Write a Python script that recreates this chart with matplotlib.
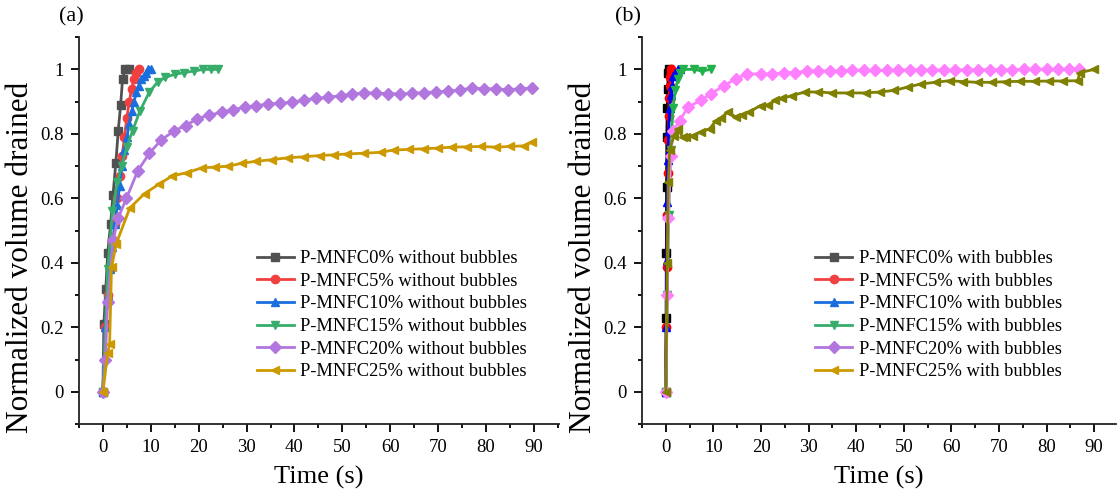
import numpy as np
import matplotlib
matplotlib.use("Agg")
import matplotlib.pyplot as plt
from matplotlib.lines import Line2D
from matplotlib.ticker import MultipleLocator, FuncFormatter

plt.rcParams['font.family'] = ['Liberation Serif', 'DejaVu Serif']

# %% data, panel (a): without bubbles
t_a0 = [0, 0.2, 0.6, 1.0, 1.6, 2.1, 2.7, 3.2, 3.7, 4.1, 4.6, 5.4]
y_a0 = [0, 0.21, 0.32, 0.43, 0.52, 0.61, 0.71, 0.81, 0.89, 0.97, 1.0, 1.0]

t_a5 = [0, 0.5, 1, 1.5, 2, 2.5, 3, 3.5, 4, 4.5, 5, 5.5, 6, 6.5, 7, 7.5]
y_a5 = [0, 0.2, 0.3, 0.38, 0.46, 0.52, 0.6, 0.67, 0.73, 0.79, 0.85, 0.9, 0.94, 0.97, 0.99, 1.0]

t_a10 = [0, 0.5, 1, 1.5, 2, 2.5, 3, 3.5, 4, 4.5, 5, 5.5, 6, 6.5, 7, 7.5, 8, 8.5, 9, 9.5, 10]
y_a10 = [0, 0.2, 0.3, 0.38, 0.45, 0.52, 0.58, 0.64, 0.7, 0.75, 0.79, 0.83, 0.87, 0.9, 0.93,
         0.95, 0.97, 0.98, 0.99, 1.0, 1.0]

t_a15 = [0, 1, 2, 3, 3.9, 5, 6.2, 7.7, 9.7, 11.4, 13, 15, 17, 19, 21, 22.5, 24]
y_a15 = [0, 0.38, 0.56, 0.65, 0.7, 0.76, 0.81, 0.87, 0.93, 0.96, 0.975, 0.985, 0.99, 0.995,
         1.0, 1.0, 1.0]

t_a20 = [0, 0.5, 1, 2.1, 3.2, 4.9, 7.3, 9.7, 12.1, 14.9, 17.3, 19.7, 22.1, 24.9, 27.2, 29.7,
         32, 34.5, 37, 39.4, 42, 44.5, 47, 49.7, 52, 54.6, 57, 59.5, 62, 64.5, 67, 69.5,
         72, 74.5, 77, 79.5, 82, 84.5, 87, 89.5]
y_a20 = [0, 0.1, 0.28, 0.47, 0.54, 0.6, 0.686, 0.74, 0.78, 0.81, 0.826, 0.847, 0.858, 0.867,
         0.875, 0.883, 0.888, 0.892, 0.895, 0.898, 0.905, 0.91, 0.913, 0.919, 0.923, 0.928,
         0.926, 0.925, 0.924, 0.926, 0.928, 0.93, 0.932, 0.936, 0.942, 0.94, 0.94, 0.937,
         0.94, 0.942]

t_a25 = [0, 1.0, 1.4, 1.8, 2.8, 5.6, 8.7, 11.8, 14.5, 17.6, 20.7, 23.5, 26.2, 29, 32, 35.3,
         38.6, 42, 45.3, 48.2, 51, 54.5, 58, 60.7, 64, 67, 70, 73, 76, 79, 82, 85, 88, 89.5]
y_a25 = [0, 0.12, 0.15, 0.386, 0.46, 0.57, 0.615, 0.645, 0.67, 0.68, 0.695, 0.697, 0.70, 0.709,
         0.715, 0.72, 0.726, 0.729, 0.733, 0.735, 0.738, 0.74, 0.743, 0.75, 0.752, 0.754,
         0.756, 0.759, 0.76, 0.761, 0.759, 0.761, 0.763, 0.774]

# %% data, panel (b): with bubbles
t_b0 = [0, 0.05, 0.1, 0.15, 0.2, 0.3, 0.4, 0.5, 0.6]
y_b0 = [0, 0.23, 0.43, 0.635, 0.79, 0.88, 0.94, 0.99, 1.0]

t_b5 = [0, 0.1, 0.2, 0.3, 0.4, 0.5, 0.6, 0.7, 0.8, 0.9, 1.0, 1.1]
y_b5 = [0, 0.2, 0.386, 0.55, 0.68, 0.78, 0.857, 0.91, 0.95, 0.976, 0.99, 1.0]

t_b10 = [0, 0.1, 0.2, 0.3, 0.4, 0.6, 0.8, 1.0, 1.3, 1.6, 2.0, 2.5, 3.0]
y_b10 = [0, 0.2, 0.41, 0.59, 0.72, 0.81, 0.88, 0.92, 0.95, 0.98, 0.99, 1.0, 1.0]

t_b15 = [0, 0.3, 0.6, 1.0, 1.5, 2.0, 2.5, 3.0, 3.5, 6, 7.5, 9.5]
y_b15 = [0, 0.3, 0.55, 0.75, 0.88, 0.935, 0.97, 0.99, 1.0, 1.0, 0.995, 1.0]

t_b20 = [0, 0.3, 0.5, 1.0, 1.5, 2.9, 4.6, 7.4, 9.5, 12.3, 14.7, 17.1, 19.9, 22.4, 24.8, 27.2,
         29.6, 32, 34.4, 36.8, 39.2, 41.6, 44, 46.4, 48.8, 51.2, 53.6, 56, 58.4, 60.8, 63.2,
         65.6, 68, 70.4, 72.8, 75.2, 77.6, 80, 82.4, 84.8, 86.9]
y_b20 = [0, 0.3, 0.54, 0.73, 0.81, 0.84, 0.883, 0.904, 0.925, 0.95, 0.971, 0.986, 0.986, 0.986,
         0.99, 0.99, 0.995, 0.995, 0.995, 0.995, 0.997, 0.997, 0.997, 0.997, 0.998, 0.998,
         0.998, 0.998, 0.998, 0.998, 0.999, 0.999, 0.999, 0.999, 0.999, 1.0, 1.0, 1.0,
         1.0, 1.0, 1.0]

t_b25 = [0, 0.3, 0.5, 0.8, 1.7, 2.6, 3.5, 4.3, 5.6, 7.4, 9.2, 10.5, 11.6, 13, 14.7, 16, 17.5,
         19.9, 21.5, 23, 24.5, 26.5, 29.3, 32, 35, 38.5, 42, 45, 48, 50.8, 53.6, 56.7, 59.6,
         62.5, 65.5, 68.5, 71.5, 74.5, 77.5, 80.5, 83.5, 86.5, 87, 90]
y_b25 = [0, 0.4, 0.65, 0.75, 0.795, 0.816, 0.79, 0.79, 0.795, 0.806, 0.816, 0.84, 0.85, 0.868,
         0.852, 0.86, 0.868, 0.888, 0.89, 0.904, 0.91, 0.919, 0.93, 0.93, 0.927, 0.927, 0.927,
         0.93, 0.935, 0.945, 0.955, 0.96, 0.965, 0.962, 0.96, 0.96, 0.962, 0.963, 0.963,
         0.964, 0.964, 0.965, 0.99, 1.0]

labels = ['P-MNFC0%', 'P-MNFC5%', 'P-MNFC10%', 'P-MNFC15%', 'P-MNFC20%', 'P-MNFC25%']
markers = ['s', 'o', '^', 'v', 'D', '<']
colors_a = ['#515151', '#F14040', '#1A6FDF', '#37AD6B', '#B177DE', '#CC9900']
colors_b = ['#000000', '#FF0000', '#0000FF', '#22B14C', '#FF80FF', '#808000']

series_a = [(t_a0, y_a0), (t_a5, y_a5), (t_a10, y_a10), (t_a15, y_a15), (t_a20, y_a20), (t_a25, y_a25)]
series_b = [(t_b0, y_b0), (t_b5, y_b5), (t_b10, y_b10), (t_b15, y_b15), (t_b20, y_b20), (t_b25, y_b25)]

fig = plt.figure(figsize=(11.17, 4.95), dpi=100)
ax_a = fig.add_axes([0.0707, 0.143, 0.430, 0.782])
ax_b = fig.add_axes([0.5748, 0.143, 0.424, 0.782])


def fmt_y(v, pos):
    if abs(v) < 1e-9:
        return '0'
    if abs(v - 1) < 1e-9:
        return '1'
    return f'{v:.1f}'


def style_axes(ax, xlim):
    ax.set_xlim(*xlim)
    ax.set_ylim(-0.1, 1.1)
    for s in ['top', 'right']:
        ax.spines[s].set_visible(False)
    for s in ['left', 'bottom']:
        ax.spines[s].set_linewidth(1.3)
        ax.spines[s].set_color('#222222')
    ax.xaxis.set_major_locator(MultipleLocator(10))
    ax.xaxis.set_minor_locator(MultipleLocator(5))
    ax.yaxis.set_major_locator(MultipleLocator(0.2))
    ax.yaxis.set_minor_locator(MultipleLocator(0.1))
    ax.yaxis.set_major_formatter(FuncFormatter(fmt_y))
    ax.set_xticks(np.arange(0, 91, 10))
    ax.set_yticks(np.arange(0, 1.01, 0.2))
    ax.tick_params(which='major', direction='out', length=6, width=1.3, labelsize=13.5, pad=5)
    ax.tick_params(which='minor', direction='out', length=3, width=1.3)
    ax.set_xlabel('Time (s)', fontsize=19, labelpad=7)
    ax.set_ylabel('Normalized volume drained', fontsize=22.5)
    ax.yaxis.set_label_coords(-0.092, 0.43)


for (t, y), c, m in zip(series_a, colors_a, markers):
    ax_a.plot(t, y, color=c, marker=m, markersize=6, lw=2)
for (t, y), c, m in zip(series_b, colors_b, markers):
    ax_b.plot(t, y, color=c, marker=m, markersize=6, lw=2)

style_axes(ax_a, (-5, 95.3))
style_axes(ax_b, (-5, 94.5))

handles = [Line2D([], [], color=c, marker=m, markersize=6, lw=2) for c, m in zip(colors_a, markers)]
ax_a.legend(handles, [l + ' without bubbles' for l in labels], loc='lower left',
            bbox_to_anchor=(0.355, 0.095), frameon=False, fontsize=13.3,
            handlelength=2.0, handletextpad=0.35, labelspacing=0.3, borderaxespad=0)
ax_b.legend(handles, [l + ' with bubbles' for l in labels], loc='lower left',
            bbox_to_anchor=(0.35, 0.095), frameon=False, fontsize=13.3,
            handlelength=2.0, handletextpad=0.35, labelspacing=0.3, borderaxespad=0)

fig.text(0.0635, 0.965, '(a)', fontsize=16, ha='center', va='center')
fig.text(0.5625, 0.965, '(b)', fontsize=16, ha='center', va='center')

fig.savefig('out.png', dpi=100)
